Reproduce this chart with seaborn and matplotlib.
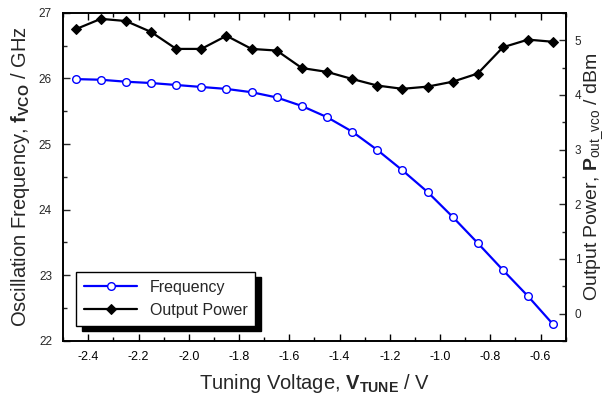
import numpy as np
import pandas as pd
import matplotlib
matplotlib.use("Agg")
import matplotlib.pyplot as plt
from matplotlib.ticker import MultipleLocator
import seaborn as sns

# tuning voltage (V)
v_tune = [-2.45, -2.35, -2.25, -2.15, -2.05, -1.95, -1.85, -1.75, -1.65, -1.55,
          -1.45, -1.35, -1.25, -1.15, -1.05, -0.95, -0.85, -0.75, -0.65, -0.55]
# oscillation frequency (GHz)
freq = [25.99, 25.98, 25.95, 25.93, 25.90, 25.87, 25.84, 25.79, 25.71, 25.58,
        25.41, 25.19, 24.91, 24.60, 24.27, 23.89, 23.49, 23.08, 22.68, 22.25]
# output power (dBm)
power = [5.20, 5.39, 5.35, 5.15, 4.84, 4.84, 5.08, 4.84, 4.81, 4.49,
         4.42, 4.29, 4.17, 4.11, 4.15, 4.24, 4.39, 4.87, 5.01, 4.97]

df = pd.DataFrame({"v": v_tune, "f": freq, "p": power})

sns.set_style("ticks")
plt.rcParams["font.family"] = ["Liberation Sans", "DejaVu Sans"]
plt.rcParams["mathtext.fontset"] = "custom"
plt.rcParams["mathtext.rm"] = "Liberation Sans"
plt.rcParams["mathtext.bf"] = "Liberation Sans:bold"
plt.rcParams["mathtext.it"] = "Liberation Sans:italic"

fig, ax = plt.subplots(figsize=(6.07, 4.01), dpi=100)
fig.subplots_adjust(left=0.104, right=0.932, top=0.968, bottom=0.150)
ax2 = ax.twinx()

sns.lineplot(data=df, x="v", y="f", ax=ax, color="#0000ff", lw=1.6,
             marker="o", markersize=5.5, markerfacecolor="white",
             markeredgecolor="#0000ff", markeredgewidth=1.0, label="Frequency",
             legend=False)
sns.lineplot(data=df, x="v", y="p", ax=ax2, color="black", lw=1.6,
             marker="D", markersize=5, markerfacecolor="black",
             markeredgecolor="black", label="Output Power", legend=False)

ax.set_xlim(-2.5, -0.5)
ax.set_ylim(22, 27)
ax2.set_ylim(-0.5, 5.5)

ax.xaxis.set_major_locator(MultipleLocator(0.2))
ax.xaxis.set_minor_locator(MultipleLocator(0.1))
ax.yaxis.set_major_locator(MultipleLocator(1))
ax.yaxis.set_minor_locator(MultipleLocator(0.5))
ax2.yaxis.set_major_locator(MultipleLocator(1))
ax2.yaxis.set_minor_locator(MultipleLocator(0.5))

ax.xaxis.set_major_formatter(plt.FuncFormatter(lambda x, p: f"{x:.1f}"))

for a in (ax, ax2):
    for s in a.spines.values():
        s.set_linewidth(1.2)
        s.set_color("black")

ax.tick_params(axis="x", which="both", direction="in", top=True, bottom=True,
               labelsize=9, pad=7.5, colors="black")
ax.tick_params(axis="y", which="both", direction="in", left=True, right=False,
               labelsize=8.5, pad=8)
ax.tick_params(which="major", length=5, width=1)
ax.tick_params(which="minor", length=3, width=1)
ax2.tick_params(axis="y", which="both", direction="in", right=True,
                labelsize=8.5, pad=6.5)
ax2.tick_params(which="major", length=5, width=1)
ax2.tick_params(which="minor", length=3, width=1)

ax.set_xlabel(r"Tuning Voltage, $\mathbf{V_{TUNE}}$ / V", fontsize=14.5, labelpad=6)
ax.set_ylabel(r"Oscillation Frequency, $\mathbf{f_{VCO}}$ / GHz", fontsize=14.5,
              labelpad=5)
ax2.set_ylabel(r"Output Power, $\mathbf{P}_{\mathrm{out\_vco}}$ / dBm",
               fontsize=14, labelpad=1)

h1, l1 = ax.get_legend_handles_labels()
h2, l2 = ax2.get_legend_handles_labels()
leg = ax2.legend(h1 + h2, l1 + l2, loc="lower left",
                 bbox_to_anchor=(0.026, 0.046), borderaxespad=0,
                 fontsize=11.5, fancybox=False, framealpha=1,
                 edgecolor="black", handlelength=3.3, handletextpad=0.8,
                 borderpad=0.5, labelspacing=0.5,
                 shadow={"ox": 4, "oy": -4, "color": "black", "alpha": 1})
leg.get_frame().set_linewidth(1.0)

fig.savefig("out.png", dpi=100)
